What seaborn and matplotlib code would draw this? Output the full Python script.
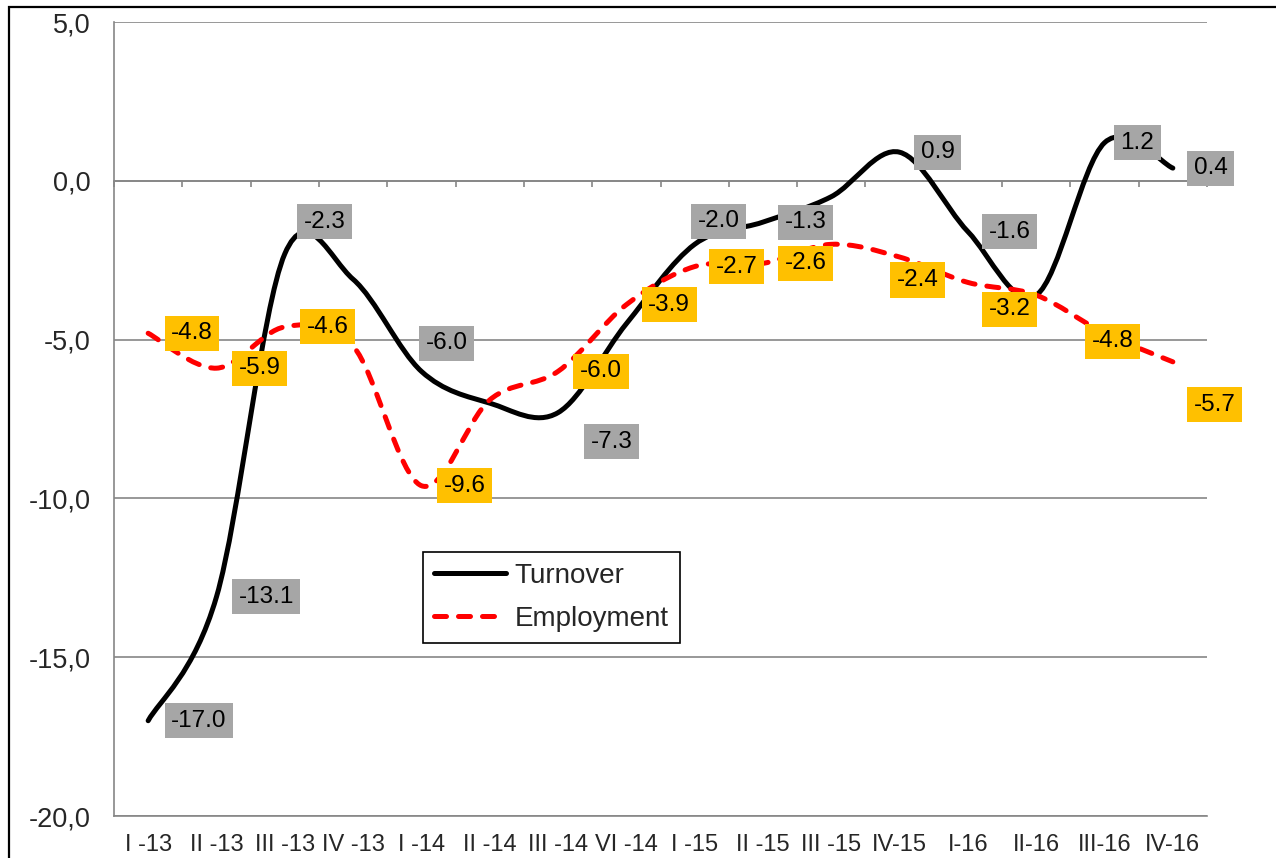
import numpy as np
import pandas as pd
import seaborn as sns
import matplotlib.pyplot as plt
from matplotlib.path import Path
from matplotlib.patches import PathPatch, Rectangle
from matplotlib.lines import Line2D

quarters = ["I -13", "II -13", "III -13", "IV -13", "I -14", "II -14", "III -14", "VI -14",
            "I -15", "II -15", "III -15", "IV-15", "I-16", "II-16", "III-16", "IV-16"]
turnover = [-17.0, -13.1, -2.3, -3.1, -6.0, -7.0, -7.3, -4.5,
            -2.0, -1.3, -0.5, 0.9, -1.6, -3.6, 1.2, 0.4]
employment = [-4.8, -5.9, -4.6, -5.2, -9.6, -6.9, -6.0, -3.9,
              -2.7, -2.6, -2.0, -2.4, -3.2, -3.6, -4.8, -5.7]
y_ticks = [-20, -15, -10, -5, 0, 5]

# points that carry a value label in the original chart
turnover_labelled = [0, 1, 2, 4, 6, 8, 9, 11, 12, 14, 15]
employment_labelled = [0, 1, 2, 4, 6, 7, 8, 9, 11, 12, 14, 15]

# label box placement relative to its point (pixels: left edge of box, up)
turnover_offsets = [(16, 0), (15, 0), (12, 32), (-3, 28), (26, -29), (-4, 23),
                    (15, 0), (14, 0), (14, 0), (9, 0), (14, 0)]
employment_offsets = [(16, 0), (15, 0), (15, 0), (15, 0), (15, 0), (15, 0),
                      (14, 0), (15, 0), (-10, -23), (14, -27), (-20, -8), (14, -43)]


def smooth_path(xy, t=1 / 6):
    # excel-like smoothed line: bezier segments through every point
    pts = np.asarray(xy, dtype=float)
    verts = [pts[0]]
    codes = [Path.MOVETO]
    for i in range(len(pts) - 1):
        p0 = pts[max(i - 1, 0)]
        p1, p2 = pts[i], pts[i + 1]
        p3 = pts[min(i + 2, len(pts) - 1)]
        verts += [p1 + (p2 - p0) * t, p2 - (p3 - p1) * t, p2]
        codes += [Path.CURVE4] * 3
    return Path(verts, codes)


sns.set_style("white")
plt.rcParams['font.family'] = ['Liberation Sans', 'DejaVu Sans']
FS = 17.5
GRID = "#868686"

fig = plt.figure(figsize=(12.76, 8.58), dpi=100)
ax = fig.add_axes([114 / 1276, 1 - 816 / 858, (1207 - 114) / 1276, (816 - 22) / 858])

n = len(quarters)
df = pd.DataFrame({
    "pos": list(range(n)) * 2,
    "value": turnover + employment,
    "series": ["Turnover"] * n + ["Employment"] * n,
})
colors = {"Turnover": "black", "Employment": "#FF0000"}
styles = {"Turnover": "solid", "Employment": (0, (2.4, 2.4))}
LW = 3.6

sns.lineplot(data=df, x="pos", y="value", hue="series", palette=colors,
             linewidth=LW, legend=False, sort=False, ax=ax)

# swap the straight segments for smoothed curves
for line, name in zip(list(ax.lines), ["Turnover", "Employment"]):
    patch = PathPatch(smooth_path(line.get_xydata()), fill=False,
                      edgecolor=colors[name], linewidth=LW,
                      linestyle=styles[name], capstyle="round", zorder=3)
    ax.add_patch(patch)
    line.remove()

# value labels
for vals, idx, offs, box in [(turnover, turnover_labelled, turnover_offsets, "#A6A6A6"),
                             (employment, employment_labelled, employment_offsets, "#FFC000")]:
    for i, (dx, dy) in zip(idx, offs):
        ax.annotate(f"{vals[i]:.1f}", xy=(i, vals[i]), xytext=(dx + 7, dy),
                    textcoords="offset pixels", ha="left", va="center",
                    fontsize=FS, color="black", zorder=5,
                    bbox=dict(boxstyle="square,pad=0.27", fc=box, ec="none"))

ax.set_xlim(-0.5, n - 0.5)
ax.set_ylim(-20, 5)
ax.set_xlabel("")
ax.set_ylabel("")

ax.set_yticks(y_ticks)
ax.set_yticklabels([f"{v:.1f}".replace(".", ",") for v in y_ticks])
ax.tick_params(axis="y", direction="out", length=5.8, width=1.2, color=GRID, pad=11,
               labelsize=19.5)
ax.yaxis.grid(True, color=GRID, linewidth=1.2)
ax.set_axisbelow(True)

# category labels at the bottom, boundary ticks on the zero line
ax.set_xticks(range(n))
ax.set_xticklabels(quarters)
ax.set_xticks(np.arange(n + 1) - 0.5, minor=True)
ax.tick_params(axis="x", which="major", length=0, pad=13, bottom=True, top=False,
               labelsize=17)
ax.tick_params(axis="x", which="minor", top=True, bottom=False, direction="in",
               length=4.5, width=1.2, color=GRID)
ax.spines["top"].set_position(("data", 0))
for side in ["top", "left", "bottom"]:
    ax.spines[side].set_color(GRID)
    ax.spines[side].set_linewidth(1.2)
ax.spines["right"].set_visible(False)

handles = [Line2D([], [], color=colors[s], lw=LW, linestyle=styles[s],
                  dash_capstyle="round", solid_capstyle="round") for s in ["Turnover", "Employment"]]
leg = ax.legend(handles, ["Turnover", "Employment"], loc="upper left",
                bbox_to_anchor=(423 / 1276, 1 - 552 / 858), bbox_transform=fig.transFigure,
                borderaxespad=0, fontsize=20, frameon=True, fancybox=False,
                handlelength=2.6, handletextpad=0.3, labelspacing=0.6, borderpad=0.4)
leg.get_frame().set_edgecolor("black")
leg.get_frame().set_linewidth(1.2)
leg.get_frame().set_alpha(1)

# outer chart border
fig.patches.append(Rectangle((9 / 1276, -0.1), 1.2, 1 - 7 / 858 + 0.1, transform=fig.transFigure,
                             fill=False, edgecolor="black", linewidth=1.6, clip_on=False))

fig.savefig("out.png", dpi=100)
